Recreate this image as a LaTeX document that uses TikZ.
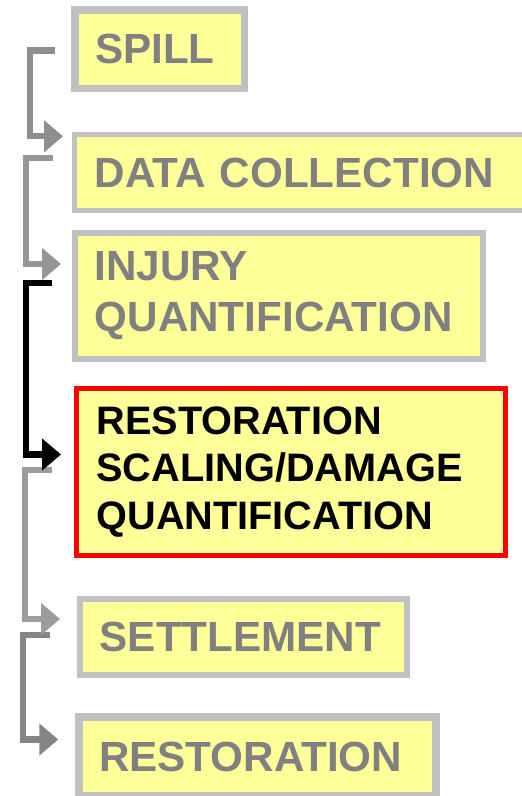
\documentclass[tikz,border=0pt]{standalone}
\usepackage{fontspec}
\setmainfont{Liberation Sans}
\usetikzlibrary{arrows.meta}
\definecolor{boxfill}{HTML}{FFFF99}
\definecolor{boxline}{HTML}{C0C0C0}
\definecolor{txtgray}{HTML}{808080}
\definecolor{arrA}{HTML}{8E8E8E}
\definecolor{arrB}{HTML}{969696}
\definecolor{arrC}{HTML}{9C9C9C}
\definecolor{arrD}{HTML}{858585}
\tikzset{
  stagebox/.style={draw=boxline, fill=boxfill, rectangle, outer sep=0pt,
    inner xsep=20pt, inner ysep=0pt, align=left, anchor=north west,
    font=\fontsize{42.2}{51.5}\selectfont\bfseries, text=txtgray},
  keybox/.style={stagebox, draw=red, text=black,
    font=\fontsize{39.7}{47.5}\selectfont\bfseries},
  conn/.style={line width=6.3pt, line join=miter,
    -{Triangle[length=19pt,width=31pt]}},
}
\begin{document}
\begin{tikzpicture}[x=1pt,y=-1pt]
\useasboundingbox (0,0) rectangle (522,796);
% boxes
\node[stagebox, line width=7.5pt, text width=129.5pt, minimum width=169.5pt, minimum height=78.5pt]
  (spill) at (75,9.75) {SPILL};
\node[stagebox, line width=5pt, text width=422pt, minimum width=462pt, minimum height=76pt]
  (data) at (74.8,134.8) {DATA COLLECTION};
\node[stagebox, line width=5.5pt, text width=368.2pt, minimum width=408.2pt, minimum height=126.2pt]
  (injury) at (74.75,232.75) {INJURY\\QUANTIFICATION};
\node[keybox, line width=5pt, text width=389pt, minimum width=429pt, minimum height=167.6pt]
  (scaling) at (76.5,388.2) {RESTORATION\\SCALING/DAMAGE\\QUANTIFICATION};
\node[stagebox, line width=5.7pt, text width=287.3pt, minimum width=327.3pt, minimum height=76pt]
  (settle) at (79.85,598.85) {SETTLEMENT};
\node[stagebox, line width=8pt, text width=317pt, minimum width=357pt, minimum height=78.4pt]
  (restore) at (79,717.3) {RESTORATION};
% connector end points
\coordinate (s1) at (55,50.5);    \coordinate (t1) at (63,136.3);
\coordinate (s2) at (53.3,157.8); \coordinate (t2) at (61,264);
\coordinate (s3) at (52.3,283);   \coordinate (t3) at (61,454.5);
\coordinate (s4) at (51.7,470);   \coordinate (t4) at (60,619);
\coordinate (s5) at (50,634.7);   \coordinate (t5) at (58.3,739.5);
% connectors
\draw[conn, arrD] (s5) -- ++(-26.7,0) |- (t5);
\draw[conn, arrC] (s4) -- ++(-26.7,0) |- (t4);
\draw[conn, black] (s3) -- ++(-26.3,0) |- (t3);
\draw[conn, arrB] (s2) -- ++(-27.3,0) |- (t2);
\draw[conn, arrA] (s1) -- ++(-25.3,0) |- (t1);
\end{tikzpicture}
\end{document}
